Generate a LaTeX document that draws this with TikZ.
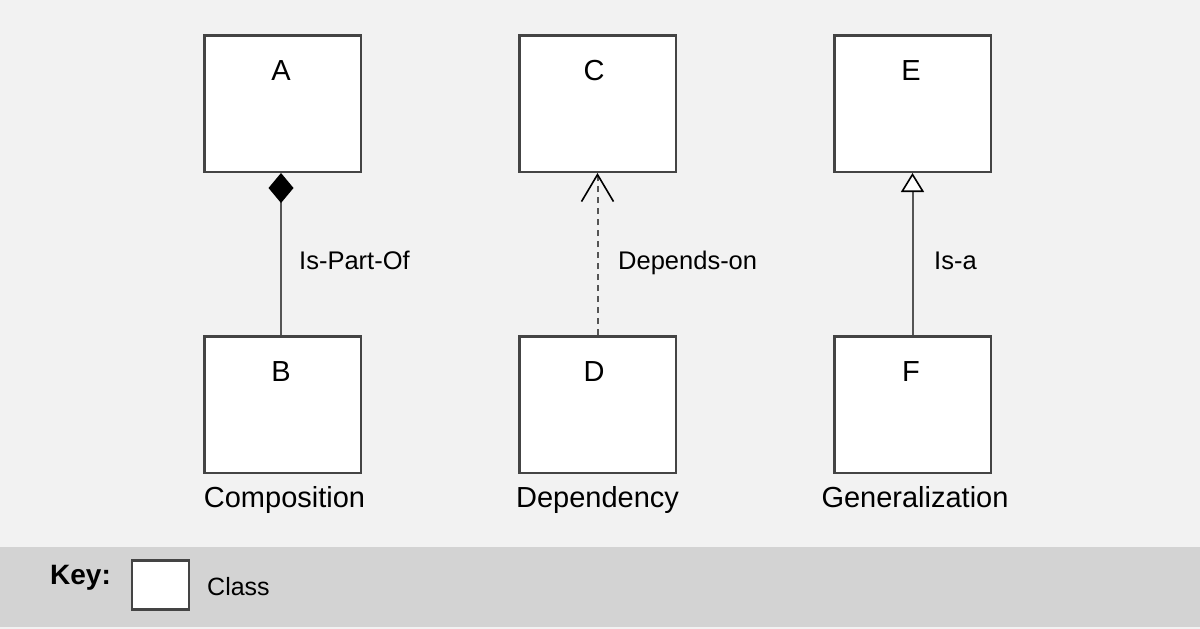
\documentclass[tikz,border=0pt]{standalone}
\usepackage{fontspec}
\setmainfont{Liberation Sans}
\usetikzlibrary{arrows.meta}
\definecolor{bgc}{HTML}{F2F2F2}
\definecolor{keyc}{HTML}{D3D3D3}
\definecolor{edgec}{HTML}{444444}
\definecolor{linec}{HTML}{555555}
\tikzset{
  classbox/.style={draw=edgec, line width=2.5pt, fill=white, minimum width=156.5pt, minimum height=136.5pt, inner sep=0pt},
  boxlabel/.style={anchor=north, font=\fontsize{29}{34}\selectfont, inner sep=0pt},
  caption/.style={anchor=north, font=\fontsize{29}{34}\selectfont, inner sep=0pt},
  edgelabel/.style={anchor=base west, font=\fontsize{25.5}{30}\selectfont, inner sep=0pt},
  conn/.style={draw=linec, line width=2pt},
  comp/.style={conn, -{Diamond[length=30pt,width=25pt,fill=black,color=black]}},
  dep/.style={conn, dash pattern=on 6pt off 5pt, -{Straight Barb[length=27pt,width=32pt,color=black,line width=1.6pt]}},
  gen/.style={conn, -{Triangle[open,length=19pt,width=23pt,fill=white,color=black,line width=1.6pt]}}
}
\begin{document}
\begin{tikzpicture}[x=1pt,y=-1pt]
\useasboundingbox (0,0) rectangle (1200,629);
\fill[bgc] (0,0) rectangle (1200,629);
\fill[keyc] (0,547) rectangle (1200,627);
% class boxes
\node[classbox] (A) at (282.5,103.5) {};
\node[classbox] (B) at (282.5,404.5) {};
\node[classbox] (C) at (597.5,103.5) {};
\node[classbox] (D) at (597.5,404.5) {};
\node[classbox] (E) at (912.5,103.5) {};
\node[classbox] (F) at (912.5,404.5) {};
% box labels
\node[boxlabel] (lA) at (281,60) {A};
\node[boxlabel] (lB) at (281,361) {B};
\node[boxlabel] (lC) at (594,60) {C};
\node[boxlabel] (lD) at (594,361) {D};
\node[boxlabel] (lE) at (911,60) {E};
\node[boxlabel] (lF) at (911,361) {F};
% captions
\node[caption] (capB) at (284.5,486) {Composition};
\node[caption] (capD) at (597.5,486) {Dependency};
\node[caption] (capF) at (915,486) {Generalization};
% connectors
\draw[comp] ([xshift=-1.5pt]B.north) -- ([xshift=-1.5pt]A.south);
\draw[dep] (D.north) -- (C.south);
\draw[gen] (F.north) -- (E.south);
% edge labels
\node[edgelabel] (eAB) at (299,269) {Is-Part-Of};
\node[edgelabel] (eCD) at (618,269) {Depends-on};
\node[edgelabel] (eEF) at (934,269) {Is-a};
% key
\node[anchor=west, font=\bfseries\fontsize{28}{33}\selectfont, inner sep=0pt] (key) at (50,578) {Key:};
\node[draw=edgec, line width=2.5pt, fill=white, minimum width=57pt, minimum height=49pt, inner sep=0pt] (keybox) at (160.5,585) {};
\node[anchor=west, font=\fontsize{25}{30}\selectfont, inner sep=0pt] (class) at (207,587) {Class};
\end{tikzpicture}
\end{document}
